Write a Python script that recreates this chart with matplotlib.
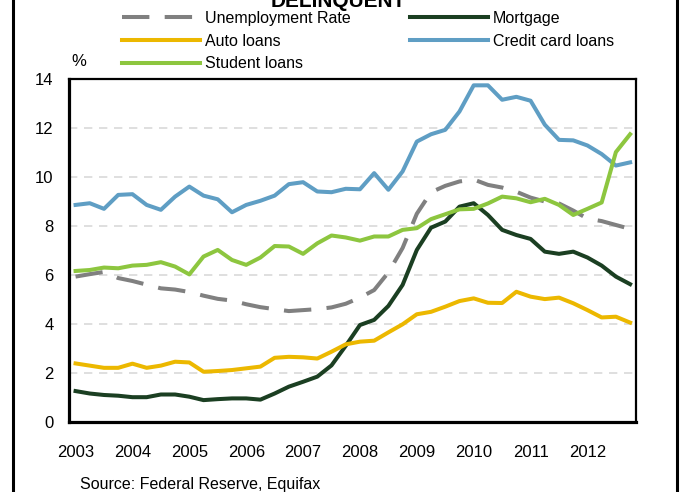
"""
Household debt delinquency vs. unemployment, 2003-2012 (quarterly)
Renders a static chart to out.png
"""

import numpy as np
import matplotlib
matplotlib.use("Agg")
import matplotlib.pyplot as plt
from matplotlib.lines import Line2D

# ==================== Data ====================

# 2003Q1 .. 2012Q4, one value per quarter
quarters = 2003 + np.arange(40) / 4
years = list(range(2003, 2013))

unemployment = [5.93, 6.03, 6.12, 5.87, 5.75, 5.6, 5.45, 5.4, 5.3, 5.15,
                5.02, 4.95, 4.8, 4.68, 4.6, 4.52, 4.56, 4.6, 4.67, 4.82,
                5.07, 5.38, 6.1, 7.1, 8.5, 9.38, 9.64, 9.82, 9.9, 9.68,
                9.57, 9.4, 9.16, 9.0, 8.92, 8.63, 8.3, 8.2, 8.04, 7.88]

mortgage = [1.25, 1.15, 1.09, 1.06, 1.0, 1.0, 1.11, 1.11, 1.02, 0.88,
            0.92, 0.95, 0.95, 0.9, 1.15, 1.43, 1.63, 1.84, 2.3, 3.1,
            3.95, 4.16, 4.73, 5.59, 7.02, 7.93, 8.18, 8.79, 8.93, 8.45,
            7.84, 7.63, 7.47, 6.95, 6.86, 6.95, 6.71, 6.38, 5.93, 5.62]

auto_loans = [2.38, 2.29, 2.2, 2.2, 2.37, 2.2, 2.29, 2.45, 2.42, 2.04,
              2.07, 2.11, 2.18, 2.25, 2.61, 2.65, 2.63, 2.58, 2.86, 3.16,
              3.27, 3.31, 3.65, 3.98, 4.39, 4.49, 4.7, 4.93, 5.04, 4.86,
              4.85, 5.31, 5.11, 5.01, 5.07, 4.84, 4.56, 4.26, 4.29, 4.05]

credit_card = [8.86, 8.93, 8.7, 9.27, 9.3, 8.86, 8.66, 9.2, 9.61, 9.24,
               9.09, 8.56, 8.86, 9.03, 9.24, 9.71, 9.79, 9.41, 9.38, 9.52,
               9.5, 10.16, 9.48, 10.23, 11.45, 11.75, 11.93, 12.68, 13.75, 13.75,
               13.16, 13.28, 13.12, 12.14, 11.52, 11.5, 11.29, 10.94, 10.47, 10.6]

student_loans = [6.16, 6.2, 6.3, 6.27, 6.38, 6.41, 6.52, 6.34, 6.02, 6.75,
                 7.02, 6.61, 6.41, 6.71, 7.18, 7.16, 6.86, 7.29, 7.61, 7.53,
                 7.4, 7.57, 7.57, 7.84, 7.91, 8.28, 8.48, 8.68, 8.7, 8.92,
                 9.2, 9.13, 8.97, 9.11, 8.86, 8.45, 8.7, 8.96, 11.02, 11.75]

# ==================== Style ====================

plt.rcParams["font.family"] = ["Liberation Sans", "DejaVu Sans"]

LW = 2.9
C_UNEMP = "#808080"
C_MORT = "#1b3f22"
C_AUTO = "#ecb800"
C_CREDIT = "#5f9ec4"
C_STUDENT = "#8dc63f"

# ==================== Plot ====================

fig = plt.figure(figsize=(6.8, 4.92), dpi=100, facecolor="white")
ax = fig.add_axes([0.1015, 0.143, 0.8335, 0.696])

l_unemp, = ax.plot(quarters, unemployment, color=C_UNEMP, lw=LW,
                   dashes=(6.8, 3.8), dash_capstyle="butt",
                   label="Unemployment Rate")
l_mort, = ax.plot(quarters, mortgage, color=C_MORT, lw=LW, label="Mortgage")
l_auto, = ax.plot(quarters, auto_loans, color=C_AUTO, lw=LW, label="Auto loans")
l_credit, = ax.plot(quarters, credit_card, color=C_CREDIT, lw=LW,
                    label="Credit card loans")
l_student, = ax.plot(quarters, student_loans, color=C_STUDENT, lw=LW,
                     label="Student loans")

ax.set_xlim(2003 - 0.115, 2012.85)
ax.set_ylim(0, 14)
ax.set_yticks(range(0, 15, 2))
ax.set_xticks(years)
ax.set_xticklabels([str(y) for y in years])
ax.tick_params(axis="both", length=0, labelsize=12)
ax.tick_params(axis="y", pad=11)
ax.tick_params(axis="x", pad=17)

ax.yaxis.grid(True, color="#d9d9d9", linestyle=(0, (5, 4)), lw=1.2)
ax.set_axisbelow(True)

for side in ("left", "bottom"):
    ax.spines[side].set_linewidth(2.3)
for side in ("top", "right"):
    ax.spines[side].set_linewidth(1.6)

# legend: two columns, filled column-first
handles = [l_unemp, l_auto, l_student, l_mort, l_credit]
fig.legend(handles=handles, labels=[h.get_label() for h in handles],
           ncol=2, loc="upper left", bbox_to_anchor=(122 / 680, 1 - 11 / 492),
           frameon=False, fontsize=11.5, handlelength=4.9, handletextpad=0.3,
           columnspacing=3.7, labelspacing=0.48, borderpad=0, borderaxespad=0)

fig.text(79 / 680, 1 - 62 / 492, "%", ha="center", va="center", fontsize=12)
fig.text(338 / 680, 1 - 7 / 492, "DELINQUENT", ha="center", va="baseline",
         fontsize=15, fontweight="bold")
fig.text(80 / 680, 1 - 484 / 492, "Source: Federal Reserve, Equifax",
         ha="left", va="center", fontsize=11.5)

# outer frame (left/right rules)
for xp in (13 / 680, 677 / 680):
    fig.add_artist(Line2D([xp, xp], [0, 1], color="black", lw=2.2,
                          transform=fig.transFigure))

fig.savefig("out.png", dpi=100, facecolor="white")
